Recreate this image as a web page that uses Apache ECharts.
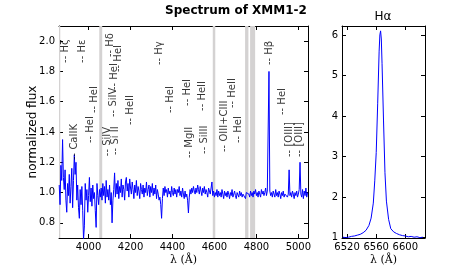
<!DOCTYPE html>
<html>
<head>
<meta charset="utf-8">
<script src="https://cdn.jsdelivr.net/npm/echarts@6/dist/echarts.min.js"></script>
<style>
html,body{margin:0;padding:0;background:#fff;}
#chart{width:472px;height:266px;}
</style>
</head>
<body>
<div id="chart"></div>
<script>
// ---- data ----
const specStart = 3860;   // first wavelength (Å)
const specStep = 4;       // sampling (Å)
const specFlux = [
  1.05, 0.92, 1.18, 1.08, 1.35, 1.10, 1.02, 1.15, 0.95, 0.87,
  1.06, 0.98, 1.12, 0.93, 1.04, 1.16, 0.90, 1.08, 1.25, 1.12,
  1.20, 0.95, 1.05, 0.90, 0.83, 1.02, 0.92, 1.04, 0.88, 0.69,
  0.78, 1.06, 0.95, 1.02, 0.87, 0.98, 1.10, 0.94, 1.03, 0.91,
  1.05, 0.96, 1.00, 0.88, 0.77, 1.06, 0.98, 0.92, 1.02, 0.97,
  1.03, 0.95, 1.06, 0.98, 1.04, 0.93, 1.08, 0.97, 1.02, 0.95,
  1.05, 0.92, 1.00, 0.80, 0.95, 1.02, 1.13, 0.97, 1.06, 0.99,
  1.08, 0.96, 1.04, 1.00, 1.09, 0.97, 1.05, 1.02, 0.95, 1.07,
  1.10, 1.01, 1.06, 0.97, 1.09, 1.03, 0.99, 1.07, 1.02, 0.96,
  1.05, 1.00, 1.08, 0.98, 1.04, 1.01, 0.96, 1.06, 1.02, 0.99,
  1.05, 0.97, 1.03, 1.00, 1.07, 0.98, 1.02, 1.05, 0.97, 1.04,
  1.00, 1.06, 0.98, 1.03, 0.99, 1.05, 0.96, 1.02, 0.99, 0.95,
  0.97, 0.92, 0.83, 0.96, 1.03, 0.98, 1.04, 1.00, 1.02, 0.97,
  1.03, 0.99, 1.01, 0.97, 1.04, 1.00, 0.98, 1.03, 0.99, 1.02,
  0.97, 1.02, 1.00, 1.04, 0.98, 1.01, 0.97, 1.03, 0.99, 0.96,
  1.01, 0.97, 0.99, 0.95, 0.865, 0.97, 1.02, 0.99, 1.03, 1.00,
  1.04, 1.01, 0.99, 1.03, 1.00, 1.05, 1.02, 0.99, 1.04, 1.01,
  0.98, 1.03, 1.00, 1.04, 0.99, 1.02, 1.00, 0.97, 1.03, 1.01,
  0.99, 1.03, 1.07, 0.98, 1.01, 0.97, 1.00, 0.98, 1.02, 0.97,
  1.01, 0.98, 1.00, 0.97, 1.02, 0.99, 0.96, 1.01, 0.98, 1.00,
  0.97, 1.01, 0.99, 0.96, 1.00, 0.98, 1.02, 0.97, 0.99, 1.01,
  0.98, 0.96, 1.00, 0.99, 0.97, 1.01, 0.98, 1.00, 0.97, 0.99,
  1.00, 0.98, 0.96, 1.00, 0.99, 1.00, 0.99, 0.97, 1.01, 0.98,
  1.00, 0.97, 1.01, 0.99, 1.02, 0.98, 1.00, 0.97, 1.01, 0.99,
  0.97, 1.02, 0.99, 1.01, 0.98, 1.00, 1.03, 0.98, 1.01, 1.00,
  1.80, 1.01, 0.98, 1.00, 0.97, 1.01, 0.99, 0.97, 1.02, 0.98,
  1.00, 0.97, 1.01, 0.99, 0.96, 1.00, 0.98, 1.01, 0.97, 0.99,
  1.00, 0.98, 0.97, 0.99, 1.15, 0.98, 1.00, 0.97, 1.01, 0.99,
  0.96, 1.00, 0.98, 1.01, 0.97, 0.99, 1.02, 1.20, 0.99, 0.97,
  1.02, 0.96, 1.01, 0.98, 1.03, 0.97, 1.00
];

const haWave = [6514, 6518, 6522, 6526, 6530, 6534, 6538, 6542, 6546, 6550, 6553, 6556, 6558, 6560, 6562, 6564, 6565, 6566, 6567, 6568, 6570, 6572, 6574, 6577, 6580, 6584, 6588, 6592, 6596, 6600, 6604, 6608, 6612, 6616, 6620, 6624];
const haFlux = [1.01, 1.00, 1.01, 1.03, 1.04, 1.06, 1.08, 1.12, 1.18, 1.30, 1.48, 1.85, 2.4, 3.1, 4.3, 5.6, 6.0, 6.1, 5.9, 5.3, 3.9, 2.6, 1.9, 1.45, 1.22, 1.14, 1.10, 1.07, 1.05, 1.04, 1.02, 1.03, 1.01, 1.02, 1.00, 1.01];

const lineNames = ['-- Hζ', '-- Hε', '-- CaIIK', '-- HeI', '-- HeI', '-- SiIV', '-- Hδ', '-- SiIV', '-- HeI', '-- Si II', '-- HeI', '-- HeII', '-- Hγ', '-- HeI', '-- HeI', '-- HeII', '-- MgII', '-- SiIII', '-- OIII+CIII', '-- HeII', '-- HeI', '-- Hβ', '-- HeI', '-- [OIII]', '-- [OIII]'];
const lineWaves = [3889, 3970, 3934, 4009, 4026, 4089, 4102, 4116, 4121, 4128, 4144, 4200, 4340, 4388, 4471, 4541, 4481, 4553, 4647, 4686, 4713, 4861, 4922, 4959, 5007];
// flux level where each label starts (its "--" end)
const lineLabelY = [1.856, 1.856, 1.215, 1.327, 1.525, 1.24, 1.895, 1.499, 1.677, 1.248, 1.796, 1.446, 1.842, 1.525, 1.572, 1.539, 1.228, 1.255, 1.268, 1.558, 1.327, 1.842, 1.512, 1.235, 1.235];

const bandStarts = [3859, 4051, 4592, 4746, 4770];
const bandEnds   = [3865, 4065, 4604, 4762, 4794];

const leftXTicks = [4000, 4200, 4400, 4600, 4800, 5000];
const leftYTicks = [0.8, 1.0, 1.2, 1.4, 1.6, 1.8, 2.0];
const rightXTicks = [6520, 6560, 6600];
const rightYTicks = [1, 2, 3, 4, 5, 6];

// ---- build ----
const FONT = 'DejaVu Sans';
const LABEL_SIZE = 10;
const leftYMin = 0.7, leftYMax = 2.1, gridH = 212;
const measureCtx = document.createElement('canvas').getContext('2d');
measureCtx.font = LABEL_SIZE + 'px "DejaVu Sans"';
const unitsPerPx = (leftYMax - leftYMin) / gridH;

const specData = specFlux.map((v, i) => [specStart + i * specStep, v]);
const haData = haWave.map((w, i) => [w, haFlux[i]]);
// the label is rotated about its centre, so shift the anchor by half its length
const labelData = lineNames.map((n, i) => {
  const w = measureCtx.measureText(n).width;
  return [lineWaves[i], lineLabelY[i] + (w / 2) * unitsPerPx, n];
});
const bandData = bandStarts.map((s, i) => [{xAxis: s}, {xAxis: bandEnds[i]}]);

const axisLineStyle = {show: true, lineStyle: {color: '#000', width: 1}};
function xAx(grid, min, max, ticks, pos, labels) {
  return {
    type: 'value', gridIndex: grid, min: min, max: max, position: pos,
    axisLine: axisLineStyle,
    axisTick: {show: true, inside: true, length: 4, customValues: ticks, lineStyle: {color: '#000'}},
    axisLabel: {show: labels, customValues: ticks, fontSize: 10, fontFamily: FONT, color: '#000', margin: 4,
                formatter: v => String(v)},
    splitLine: {show: false},
    name: labels ? 'λ (Å)' : '', nameLocation: 'middle', nameGap: 17, nameMoveOverlap: false,
    nameTextStyle: {fontFamily: 'DejaVu Serif', fontSize: 11, color: '#000'}
  };
}
function yAx(grid, min, max, ticks, pos, labels, fmt, name) {
  return {
    type: 'value', gridIndex: grid, min: min, max: max, position: pos,
    axisLine: axisLineStyle,
    axisTick: {show: true, inside: true, length: 4, customValues: ticks, lineStyle: {color: '#000'}},
    axisLabel: {show: labels, customValues: ticks, fontSize: 10, fontFamily: FONT, color: '#000', margin: 4, formatter: fmt},
    splitLine: {show: false},
    name: name || '', nameLocation: 'middle', nameGap: 20, nameMoveOverlap: false,
    nameTextStyle: {fontFamily: FONT, fontSize: 12, color: '#000'}
  };
}

const chart = echarts.init(document.getElementById('chart'), null, {renderer: 'canvas'});
chart.setOption({
  animation: false,
  backgroundColor: '#fff',
  title: [
    {text: 'Spectrum of XMM1-2', left: 236, top: 5, padding: 0, textAlign: 'center',
     textStyle: {fontFamily: FONT, fontSize: 12, fontWeight: 'bold', color: '#000'}},
    {text: 'Hα', left: 383, top: 11, padding: 0, textAlign: 'center',
     textStyle: {fontFamily: FONT, fontSize: 12, fontWeight: 'normal', color: '#000'}}
  ],
  grid: [
    {left: 59, top: 26, width: 249, height: gridH, containLabel: false, outerBoundsMode: 'none'},
    {left: 342, top: 26, width: 83, height: gridH, containLabel: false, outerBoundsMode: 'none'}
  ],
  xAxis: [
    xAx(0, 3859, 5046, leftXTicks, 'bottom', true),
    xAx(0, 3859, 5046, leftXTicks, 'top', false),
    xAx(1, 6513, 6627, rightXTicks, 'bottom', true),
    xAx(1, 6513, 6627, rightXTicks, 'top', false)
  ],
  yAxis: [
    yAx(0, leftYMin, leftYMax, leftYTicks, 'left', true, v => v.toFixed(1), 'normalized flux'),
    yAx(0, leftYMin, leftYMax, leftYTicks, 'right', false),
    yAx(1, 0.99, 6.22, rightYTicks, 'left', true, v => String(Math.round(v))),
    yAx(1, 0.99, 6.22, rightYTicks, 'right', false)
  ],
  series: [
    {
      type: 'line', xAxisIndex: 0, yAxisIndex: 0, data: specData,
      showSymbol: false, symbol: 'none', clip: true,
      lineStyle: {color: '#0000ff', width: 1}, z: 3,
      markArea: {silent: true, itemStyle: {color: '#d4d2d2'}, data: bandData}
    },
    {
      type: 'scatter', xAxisIndex: 0, yAxisIndex: 0, data: labelData,
      symbolSize: 1, itemStyle: {color: 'rgba(0,0,0,0)'}, z: 4, silent: true,
      label: {show: true, position: 'inside', rotate: 90, align: 'center', verticalAlign: 'middle',
              formatter: p => p.data[2], fontSize: LABEL_SIZE, fontFamily: FONT, color: '#000'}
    },
    {
      type: 'line', xAxisIndex: 2, yAxisIndex: 2, data: haData,
      showSymbol: false, symbol: 'none', clip: true,
      lineStyle: {color: '#0000ff', width: 1}
    }
  ]
});
</script>
</body>
</html>
